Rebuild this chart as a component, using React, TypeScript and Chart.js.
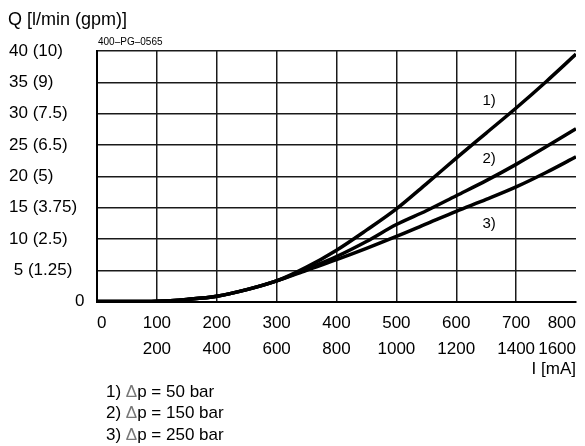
import { useEffect, useRef } from 'react';
import { Chart, registerables } from 'chart.js';

Chart.register(...registerables);

// Control current (top row, mA) at which the curves were read
const currentX = [0, 50, 100, 150, 200, 250, 300, 350, 400, 450, 500, 550, 600, 650, 700, 750, 800];
// Flow Q [l/min] for the three pressure drops
const flowDp50 = [0, 0, 0.05, 0.35, 0.85, 1.9, 3.3, 5.5, 8.2, 11.4, 14.8, 18.8, 22.9, 26.9, 30.9, 35.1, 39.5];
const flowDp150 = [0, 0, 0.05, 0.35, 0.85, 1.9, 3.3, 5.2, 7.2, 9.6, 12.3, 14.5, 16.9, 19.3, 21.9, 24.7, 27.6];
const flowDp250 = [0, 0, 0.05, 0.35, 0.85, 1.9, 3.3, 5.0, 6.7, 8.5, 10.4, 12.4, 14.4, 16.3, 18.3, 20.6, 23.1];

const seriesTags = ['1)', '2)', '3)'];
const pressures = [50, 150, 250];

const yTickValues = [0, 5, 10, 15, 20, 25, 30, 35, 40];
const yTickLabels = ['0', '5 (1.25)', '10 (2.5)', '15 (3.75)', '20 (5)', '25 (6.5)', '30 (7.5)', '35 (9)', '40 (10)'];

const xTickValues = [0, 100, 200, 300, 400, 500, 600, 700, 800];
const xTickLabelsTop = ['0', '100', '200', '300', '400', '500', '600', '700', '800'];
const xTickLabelsBottom = ['', '200', '400', '600', '800', '1000', '1200', '1400', '1600'];

const yTitle = 'Q [l/min (gpm)]';
const xTitle = 'I [mA]';
const drawingCode = '400–PG–0565';

// where the "1)", "2)", "3)" tags sit, in data units
const tagAnchorX = 655;
const tagAnchorY = [32.1, 22.75, 12.4];

const FONT = 'Liberation Sans, Arial, Helvetica, sans-serif';

export default function App() {
  const ref = useRef<HTMLCanvasElement | null>(null);

  useEffect(() => {
    if (!ref.current) return;

    const annotations = {
      id: 'annotations',
      afterDraw(chart: any) {
        const { ctx, chartArea, scales } = chart;
        const xs = scales.x;
        const ys = scales.y;
        ctx.save();
        ctx.fillStyle = '#000';
        ctx.textBaseline = 'middle';

        ctx.font = `18px ${FONT}`;
        ctx.textAlign = 'left';
        ctx.fillText(yTitle, 8, 20);

        ctx.font = `10px ${FONT}`;
        ctx.fillText(drawingCode, chartArea.left + 1, chartArea.top - 9);

        ctx.font = `15px ${FONT}`;
        ctx.textAlign = 'center';
        seriesTags.forEach((t, i) => {
          ctx.fillText(t, xs.getPixelForValue(tagAnchorX), ys.getPixelForValue(tagAnchorY[i]));
        });

        ctx.font = `17px ${FONT}`;
        ctx.textAlign = 'left';
        const lx = chartArea.left + 9;
        pressures.forEach((p, i) => {
          const y = 392 + i * 21.6;
          let x = lx;
          const a = `${seriesTags[i]} `;
          ctx.fillStyle = '#000';
          ctx.fillText(a, x, y);
          x += ctx.measureText(a).width;
          ctx.fillStyle = '#777';
          ctx.fillText('Δ', x, y);
          x += ctx.measureText('Δ').width;
          ctx.fillStyle = '#000';
          ctx.fillText(`p = ${p} bar`, x, y);
        });
        ctx.restore();
      },
    };

    const mk = (vals: number[]) => currentX.map((x, i) => ({ x, y: vals[i] }));
    const lineStyle = {
      borderColor: '#000',
      borderWidth: 3.5,
      pointRadius: 0,
      fill: false,
      cubicInterpolationMode: 'monotone' as const,
    };

    const chart = new Chart(ref.current, {
      type: 'line',
      data: {
        datasets: [
          { label: seriesTags[0], data: mk(flowDp50), ...lineStyle },
          { label: seriesTags[1], data: mk(flowDp150), ...lineStyle },
          { label: seriesTags[2], data: mk(flowDp250), ...lineStyle },
        ],
      },
      options: {
        animation: false,
        responsive: false,
        layout: { padding: { left: 9, right: 2, top: 51, bottom: 66 } },
        plugins: {
          legend: { display: false },
          title: { display: false },
          tooltip: { enabled: false },
        },
        scales: {
          x: {
            type: 'linear',
            min: 0,
            max: 800,
            afterBuildTicks: (s: any) => {
              s.ticks = xTickValues.map((v) => ({ value: v }));
            },
            ticks: {
              autoSkip: false,
              maxRotation: 0,
              align: 'inner',
              padding: 9,
              color: '#000',
              font: { family: FONT, size: 17, lineHeight: 1.53 },
              callback: (v: any) => {
                const i = xTickValues.indexOf(Number(v));
                return [xTickLabelsTop[i], xTickLabelsBottom[i]];
              },
            },
            grid: {
              drawTicks: false,
              lineWidth: 1.5,
              color: (c: any) => (c.tick && c.tick.value === 800 ? 'rgba(0,0,0,0)' : '#1a1a1a'),
            },
            border: { display: true, color: '#000', width: 2 },
            title: {
              display: true,
              text: xTitle,
              align: 'end',
              color: '#000',
              font: { family: FONT, size: 17 },
              padding: { top: -12, bottom: 0 },
            },
          },
          y: {
            type: 'linear',
            min: 0,
            max: 40,
            afterBuildTicks: (s: any) => {
              s.ticks = yTickValues.map((v) => ({ value: v }));
            },
            afterFit: (s: any) => {
              s.width = 88;
            },
            ticks: {
              autoSkip: false,
              crossAlign: 'far',
              padding: 8,
              color: '#000',
              font: { family: FONT, size: 17 },
              callback: (v: any) => {
                const i = yTickValues.indexOf(Number(v));
                const t = yTickLabels[i];
                if (t === '0') return '              0';
                if (t === '5 (1.25)') return ' ' + t;
                return t;
              },
            },
            grid: { drawTicks: false, lineWidth: 1.5, color: '#1a1a1a' },
            border: { display: true, color: '#000', width: 2 },
          },
        },
      },
      plugins: [annotations],
    });

    return () => chart.destroy();
  }, []);

  return (
    <canvas
      ref={ref}
      width={585}
      height={446}
      style={{ position: 'fixed', left: 0, top: 0, display: 'block' }}
    />
  );
}
